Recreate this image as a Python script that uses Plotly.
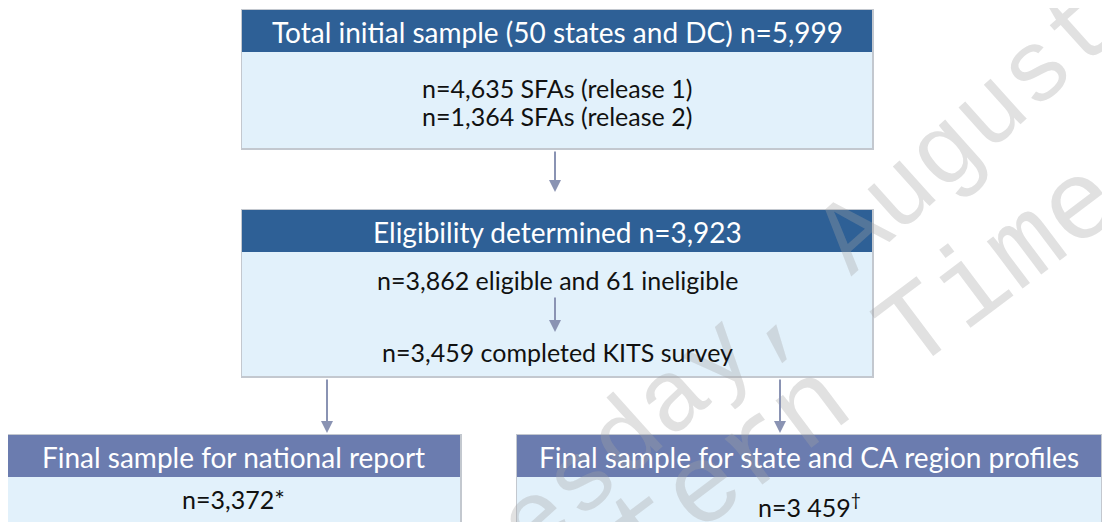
import plotly.graph_objects as go

W, H = 1110, 522
OFF = 8  # page body margin compensation

# ---- content ----
headers = [
    "Total initial sample (50 states and DC) n=5,999",
    "Eligibility determined n=3,923",
    "Final sample for national report",
    "Final sample for state and CA region profiles",
]
body_lines = [
    ["n=4,635 SFAs (release 1)", "n=1,364 SFAs (release 2)"],
    ["n=3,862 eligible and 61 ineligible", "n=3,459 completed KITS survey"],
    ["n=3,372*"],
    ["n=3 459<sup>†</sup>"],
]
watermark = ["Tuesday, August", "Eastern Time"]

# ---- layout geometry (pixels) ----
boxes = [  # x0, x1, header top, header bottom, body bottom
    (242, 872, 10, 52, 148),
    (242, 872, 210, 252, 376),
    (7, 460, 435, 477, 540),
    (517, 1101, 435, 477, 540),
]
header_colors = ["#2e6096", "#2e6096", "#6b7caf", "#6b7caf"]
body_color = "#e2f1fb"
border_color = "#c3c8cf"
text_y = [[88, 116], [280, 352], [499], [505]]
arrows = [  # x, y_start, y_end
    (555, 150, 192),
    (555, 296, 332),
    (327, 378, 433),
    (780, 378, 433),
]
arrow_color = "#8a93b3"

fig = go.Figure()
fig.add_trace(go.Scatter(x=[OFF, W + OFF], y=[OFF, H + OFF], mode="markers",
                         marker=dict(opacity=0), hoverinfo="skip", showlegend=False))

shapes = []
annotations = []

# watermark
annotations.append(dict(x=765, y=318, xref="x", yref="y", text=watermark[0],
                        showarrow=False, textangle=-42,
                        font=dict(family="Liberation Mono", size=102, color="rgba(165,165,165,0.33)")))
annotations.append(dict(x=785, y=430, xref="x", yref="y", text=watermark[1],
                        showarrow=False, textangle=-37,
                        font=dict(family="Liberation Mono", size=112, color="rgba(165,165,165,0.33)")))

for i, (x0, x1, ht, hb, bb) in enumerate(boxes):
    shapes.append(dict(type="rect", xref="x", yref="y", x0=x0 - 1, x1=x1 + 2, y0=ht - 1, y1=bb + 2,
                       fillcolor=border_color, line=dict(width=0), layer="below"))
    shapes.append(dict(type="rect", xref="x", yref="y", x0=x0, x1=x1, y0=hb, y1=bb,
                       fillcolor=body_color, line=dict(width=0), layer="below"))
    shapes.append(dict(type="rect", xref="x", yref="y", x0=x0, x1=x1, y0=ht, y1=hb,
                       fillcolor=header_colors[i], line=dict(width=0), layer="below"))
    cx = (x0 + x1) / 2
    annotations.append(dict(x=cx, y=(ht + hb) / 2 + 1, xref="x", yref="y", text=headers[i],
                            showarrow=False,
                            font=dict(family="Lato", size=28, color="white")))
    for line, ty in zip(body_lines[i], text_y[i]):
        annotations.append(dict(x=cx, y=ty, xref="x", yref="y", text=line, showarrow=False,
                                font=dict(family="Lato", size=25, color="#111111")))

for ax_x, y0, y1 in arrows:
    annotations.append(dict(x=ax_x, y=y1, ax=ax_x, ay=y0, xref="x", yref="y",
                            axref="x", ayref="y", text="", showarrow=True,
                            arrowhead=2, arrowsize=1.2, arrowwidth=2, arrowcolor=arrow_color))

fig.update_layout(
    width=W, height=H,
    margin=dict(l=0, r=0, t=0, b=0),
    paper_bgcolor="white", plot_bgcolor="white",
    xaxis=dict(range=[OFF, W + OFF], visible=False, fixedrange=True),
    yaxis=dict(range=[H + OFF, OFF], visible=False, fixedrange=True),
    shapes=shapes, annotations=annotations, showlegend=False,
)

fig.write_html("out.html")
